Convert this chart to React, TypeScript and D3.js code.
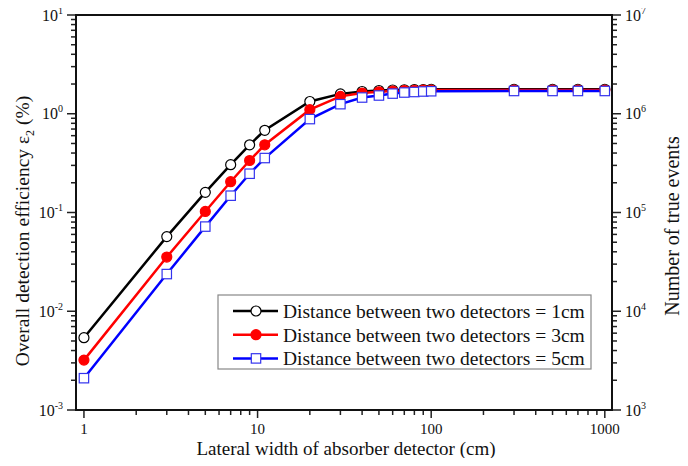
import React, { useEffect, useRef } from "react";
import * as d3 from "d3";

// lateral width of absorber detector (cm)
const widths = [1, 3, 5, 7, 9, 11, 20, 30, 40, 50, 60, 70, 80, 90, 100, 300, 500, 700, 1000];

// overall detection efficiency (%) per detector distance
const eff1cm = [0.0054, 0.057, 0.16, 0.305, 0.485, 0.68, 1.33, 1.59, 1.68, 1.72, 1.74, 1.75, 1.76, 1.76, 1.77, 1.77, 1.77, 1.77, 1.77];
const eff3cm = [0.0032, 0.0354, 0.1025, 0.205, 0.336, 0.485, 1.1, 1.5, 1.62, 1.67, 1.7, 1.72, 1.73, 1.74, 1.74, 1.74, 1.74, 1.74, 1.74];
const eff5cm = [0.0021, 0.0238, 0.072, 0.148, 0.247, 0.356, 0.883, 1.25, 1.46, 1.53, 1.6, 1.64, 1.66, 1.68, 1.69, 1.7, 1.7, 1.7, 1.7];

const seriesNames = [
  "Distance between two detectors = 1cm",
  "Distance between two detectors = 3cm",
  "Distance between two detectors = 5cm",
];

const xTickLabels = [1, 10, 100, 1000];
const leftExponents = [-3, -2, -1, 0, 1];
const rightExponents = [3, 4, 5, 6, 7];

const W = 688;
const H = 466;
const margin = { top: 15, right: 76, bottom: 56, left: 76 };
const font = "Liberation Serif, Times New Roman, serif";

export default function App() {
  const ref = useRef<SVGSVGElement>(null);

  useEffect(() => {
    const svg = d3.select(ref.current);
    svg.selectAll("*").remove();

    const x0 = margin.left;
    const x1 = W - margin.right;
    const y0 = H - margin.bottom;
    const y1 = margin.top;

    const x = d3.scaleLog().domain([0.9, 1100]).range([x0, x1]);
    const y = d3.scaleLog().domain([1e-3, 10]).range([y0, y1]);
    const yR = d3.scaleLog().domain([1e3, 1e7]).range([y0, y1]);

    const g = svg.append("g");

    const minorVals = (lo, hi) => {
      const out = [];
      for (let e = lo; e < hi; e++) {
        for (let m = 2; m <= 9; m++) out.push(m * Math.pow(10, e));
      }
      return out;
    };

    const xMinor = minorVals(0, 3);
    const yMinor = minorVals(-3, 1);
    const yRMinor = minorVals(3, 7);

    const tickStroke = "#222";
    const txt = (sel) => sel.append("text").attr("font-family", font).attr("fill", "#111");

    // x axis ticks
    g.append("g").selectAll("line").data(xMinor).join("line")
      .attr("x1", (d) => x(d)).attr("x2", (d) => x(d))
      .attr("y1", y0).attr("y2", y0 + 5)
      .attr("stroke", tickStroke).attr("stroke-width", 1.5);
    g.append("g").selectAll("line").data(xTickLabels).join("line")
      .attr("x1", (d) => x(d)).attr("x2", (d) => x(d))
      .attr("y1", y0).attr("y2", y0 + 8)
      .attr("stroke", tickStroke).attr("stroke-width", 1.5);
    g.append("g").selectAll("text").data(xTickLabels).join("text")
      .attr("font-family", font).attr("fill", "#111")
      .attr("x", (d) => x(d)).attr("y", y0 + 24)
      .attr("text-anchor", "middle").attr("font-size", 15)
      .text((d) => String(d));

    // left axis ticks
    g.append("g").selectAll("line").data(yMinor).join("line")
      .attr("x1", x0 - 5).attr("x2", x0)
      .attr("y1", (d) => y(d)).attr("y2", (d) => y(d))
      .attr("stroke", tickStroke).attr("stroke-width", 1.5);
    g.append("g").selectAll("line").data(leftExponents).join("line")
      .attr("x1", x0 - 9).attr("x2", x0)
      .attr("y1", (d) => y(Math.pow(10, d))).attr("y2", (d) => y(Math.pow(10, d)))
      .attr("stroke", tickStroke).attr("stroke-width", 1.5);
    const lt = g.append("g").selectAll("text").data(leftExponents).join("text")
      .attr("font-family", font).attr("fill", "#111")
      .attr("x", x0 - 13).attr("y", (d) => y(Math.pow(10, d)) + 5.5)
      .attr("text-anchor", "end").attr("font-size", 16);
    lt.append("tspan").text("10");
    lt.append("tspan").attr("font-size", 10).attr("dy", -7).text((d) => String(d));

    // right axis ticks
    g.append("g").selectAll("line").data(yRMinor).join("line")
      .attr("x1", x1).attr("x2", x1 + 5)
      .attr("y1", (d) => yR(d)).attr("y2", (d) => yR(d))
      .attr("stroke", tickStroke).attr("stroke-width", 1.5);
    g.append("g").selectAll("line").data(rightExponents).join("line")
      .attr("x1", x1).attr("x2", x1 + 9)
      .attr("y1", (d) => yR(Math.pow(10, d))).attr("y2", (d) => yR(Math.pow(10, d)))
      .attr("stroke", tickStroke).attr("stroke-width", 1.5);
    const rt = g.append("g").selectAll("text").data(rightExponents).join("text")
      .attr("font-family", font).attr("fill", "#111")
      .attr("x", x1 + 13).attr("y", (d) => yR(Math.pow(10, d)) + 5.5)
      .attr("font-size", 16);
    rt.append("tspan").text("10");
    rt.append("tspan").attr("font-size", 10).attr("dy", -7).text((d) => String(d));

    // frame
    g.append("rect")
      .attr("x", x0).attr("y", y1)
      .attr("width", x1 - x0).attr("height", y0 - y1)
      .attr("fill", "none").attr("stroke", "#111").attr("stroke-width", 2);

    // axis titles
    txt(g)
      .attr("x", (x0 + x1) / 2 + 2).attr("y", 455)
      .attr("text-anchor", "middle").attr("font-size", 19)
      .text("Lateral width of absorber detector (cm)");

    const lt2 = txt(g)
      .attr("transform", `translate(29,231) rotate(-90)`)
      .attr("text-anchor", "middle").attr("font-size", 19.5);
    lt2.append("tspan").text("Overall detection efficiency ε");
    lt2.append("tspan").attr("font-size", 12).attr("dy", 5).text("2");
    lt2.append("tspan").attr("dy", -5).text(" (%)");

    txt(g)
      .attr("transform", `translate(679,226) rotate(-90)`)
      .attr("text-anchor", "middle").attr("font-size", 20)
      .text("Number of true events");

    // series
    const series = [
      { name: seriesNames[0], values: eff1cm, color: "#000000", marker: "circle", fill: "#ffffff" },
      { name: seriesNames[1], values: eff3cm, color: "#ff0000", marker: "circle", fill: "#ff0000" },
      { name: seriesNames[2], values: eff5cm, color: "#0000ff", marker: "square", fill: "#ffffff" },
    ];

    const line = d3.line<number>()
      .x((d, i) => x(widths[i]))
      .y((d) => y(d));

    const drawMarker = (sel, s, cx, cy) => {
      if (s.marker === "circle") {
        sel.append("circle").attr("cx", cx).attr("cy", cy).attr("r", 5)
          .attr("fill", s.fill).attr("stroke", s.color)
          .attr("stroke-width", 1.2);
      } else {
        sel.append("rect").attr("x", cx - 4.7).attr("y", cy - 4.7)
          .attr("width", 9.4).attr("height", 9.4)
          .attr("fill", s.fill).attr("stroke", "#3333ee").attr("stroke-width", 1.2);
      }
    };

    series.forEach((s) => {
      g.append("path").datum(s.values)
        .attr("fill", "none").attr("stroke", s.color).attr("stroke-width", 2.5)
        .attr("d", line);
    });
    series.forEach((s) => {
      const mg = g.append("g");
      s.values.forEach((v, i) => drawMarker(mg, s, x(widths[i]), y(v)));
    });

    // legend
    const lx = 218, ly = 295, lw = 373, lh = 74;
    const leg = g.append("g");
    leg.append("rect").attr("x", lx).attr("y", ly).attr("width", lw).attr("height", lh)
      .attr("fill", "#fff").attr("stroke", "#888").attr("stroke-width", 1.2);
    series.forEach((s, i) => {
      const cy = ly + 16 + i * 23.7;
      leg.append("line").attr("x1", lx + 15).attr("x2", lx + 60)
        .attr("y1", cy).attr("y2", cy)
        .attr("stroke", s.color).attr("stroke-width", 2.5);
      drawMarker(leg, s, lx + 38, cy);
      txt(leg).attr("x", lx + 65).attr("y", cy + 7)
        .attr("font-size", 19.5).text(s.name);
    });
  }, []);

  return (
    <svg
      ref={ref}
      width={W}
      height={H}
      style={{ display: "block", margin: "-8px", fontFamily: font }}
    />
  );
}
